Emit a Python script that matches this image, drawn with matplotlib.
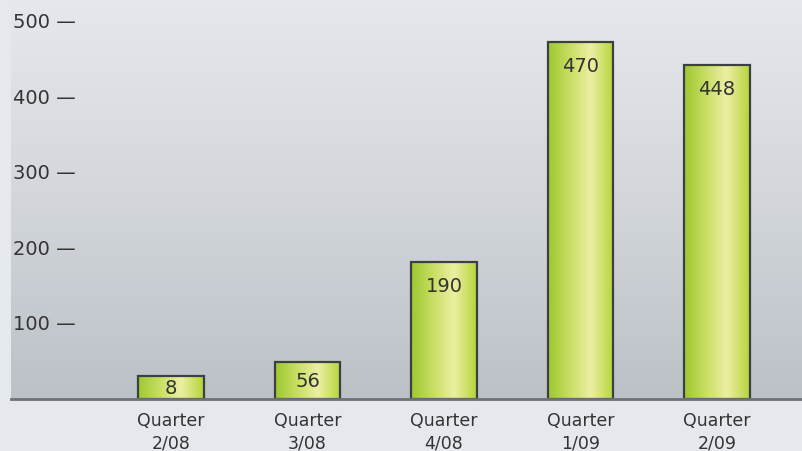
import numpy as np
import matplotlib
matplotlib.use('Agg')
import matplotlib.pyplot as plt
import matplotlib.transforms as mtransforms
from matplotlib.colors import LinearSegmentedColormap

# values (bar heights as drawn, labels as printed)
quarters = ['Quarter\n2/08', 'Quarter\n3/08', 'Quarter\n4/08', 'Quarter\n1/09', 'Quarter\n2/09']
heights = [31, 49, 182, 474, 443]
labels = ['8', '56', '190', '470', '448']
yticks = [100, 200, 300, 400, 500]

W, H = 803, 452
PX = 0.754  # pixels per unit
BASE = 400  # baseline, px from top
fig = plt.figure(figsize=(W / 100, H / 100), dpi=100)
fig.patch.set_facecolor('#e5e9ed')

ax = fig.add_axes([11 / W, (H - BASE) / H, 1 - 11 / W, BASE / H])
ymax = BASE / PX
ax.set_ylim(0, ymax)
for s in ax.spines.values():
    s.set_visible(False)
ax.set_xticks([])
ax.set_yticks([])

# background gradient, light at top, grey near the baseline
bg = LinearSegmentedColormap.from_list('bg', ['#bcc1c7', '#d3d7dc', '#e5e9ed'])
grad = np.linspace(0, 1, 256).reshape(-1, 1)
ax.imshow(grad, cmap=bg, origin='lower', aspect='auto',
          extent=[-1.172, 4.63, 0, ymax], zorder=0)

# bars with horizontal gradient
green = LinearSegmentedColormap.from_list(
    'green', [(0, '#9ec830'), (0.35, '#cadf66'), (0.65, '#ecefa2'), (1, '#b6d43a')])
hgrad = np.linspace(0, 1, 256).reshape(1, -1)
x = np.arange(len(heights))
bw = 0.48
ax.bar(x, heights, width=bw, facecolor='none', edgecolor='#3c4044',
       linewidth=1.6, zorder=3)
for xi, h in zip(x, heights):
    ax.imshow(hgrad, cmap=green, aspect='auto',
              extent=[xi - bw / 2, xi + bw / 2, 0, h], zorder=2)

# value labels inside bars
for xi, h, lab in zip(x, heights, labels):
    if h * PX > 40:
        ax.annotate(lab, (xi, h), xytext=(0, -14), textcoords='offset pixels',
                    ha='center', va='top', fontsize=14, color='#333333', zorder=4)
    else:
        ax.text(xi, h / 2, lab, ha='center', va='center', fontsize=14,
                color='#333333', zorder=4)

# baseline
ax.axhline(0, color='#6e7276', linewidth=2, clip_on=False, zorder=5)
ax.set_xlim(-1.172, 4.63)

# y tick labels like "500 —"
trans = mtransforms.blended_transform_factory(fig.transFigure, ax.transData)
for t in yticks:
    ax.text(13 / W, t, str(t) + ' \u2014', transform=trans, ha='left', va='center',
            fontsize=14, color='#333333', zorder=4)

# x category labels below the baseline
for xi, q in zip(x, quarters):
    ax.annotate(q, (xi, 0), xytext=(0, -12), textcoords='offset pixels',
                ha='center', va='top', fontsize=12.5, color='#333333',
                linespacing=1.35, annotation_clip=False)

fig.savefig('out.png', dpi=100, facecolor=fig.get_facecolor())
